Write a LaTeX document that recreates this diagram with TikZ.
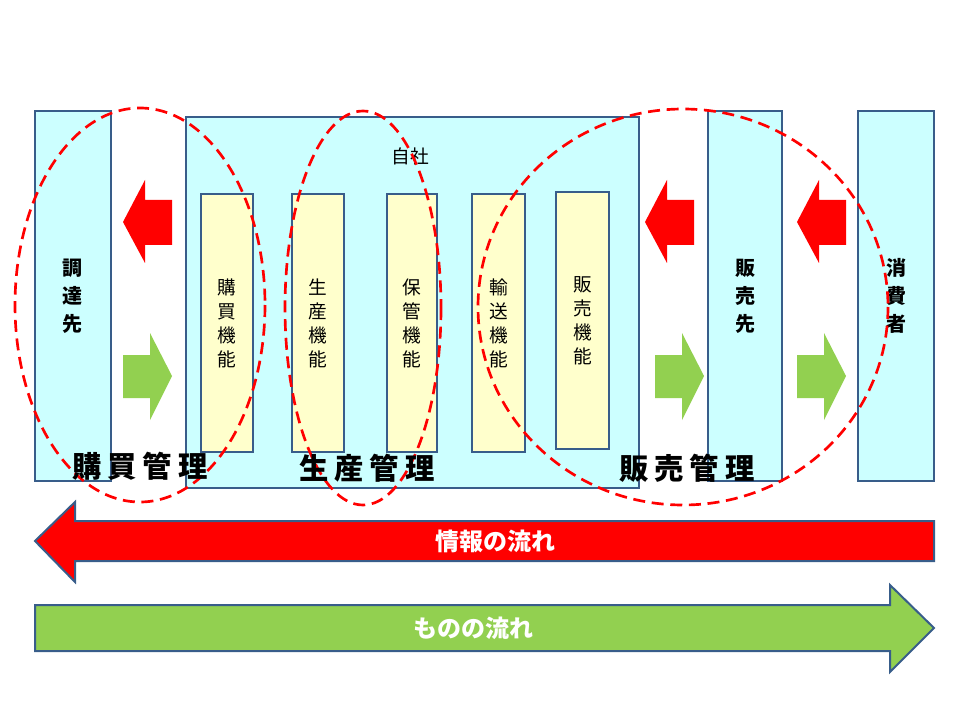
\documentclass[tikz,border=0pt]{standalone}
\usepackage{fontspec}
\setmainfont{Noto Sans CJK JP}
\definecolor{boxfill}{RGB}{204,255,255}
\definecolor{boxline}{RGB}{56,93,138}
\definecolor{funcfill}{RGB}{255,255,204}
\definecolor{arrgreen}{RGB}{146,208,80}
\tikzset{every picture/.style={line width=0.75pt}}
\tikzset{
  party/.style={draw=boxline,line width=1.5pt,fill=boxfill,inner sep=0pt,align=center,font=\bfseries\fontsize{15}{21}\selectfont},
  func/.style={draw=boxline,line width=1.5pt,fill=funcfill,inner sep=0pt,align=center,font=\fontsize{14}{18}\selectfont},
  scopering/.style={draw=red,line width=2pt,dash pattern={on 9pt off 5pt}},
  mgmt/.style={font=\bfseries\fontsize{22}{26}\selectfont\addfontfeature{LetterSpace=20},inner sep=0pt},
  flowtext/.style={text=white,font=\bfseries\fontsize{18}{20}\selectfont}
}
\begin{document}
\begin{tikzpicture}[x=0.75pt,y=0.75pt,yscale=-1,xscale=1]
\useasboundingbox (0,0) rectangle (960,720);

%Shape: parties
\node[party,minimum width=57pt,minimum height=278pt] (supplier) at (72.5,296) {調\\達\\先};
\draw[boxline,line width=1.5pt,fill=boxfill] (186,117) rectangle (639,488);
\node[font=\fontsize{14}{16}\selectfont] (self) at (410,156) {自社};
\node[party,minimum width=56pt,minimum height=278pt] (buyer) at (745,296) {販\\売\\先};
\node[party,minimum width=57pt,minimum height=278pt] (consumer) at (896,296) {消\\費\\者};

%Shape: functions
\node[func,minimum width=39pt,minimum height=193pt] (fpur) at (227,323) {購\\買\\機\\能};
\node[func,minimum width=39pt,minimum height=193pt] (fprod) at (318,323) {生\\産\\機\\能};
\node[func,minimum width=38pt,minimum height=193pt] (fstore) at (412,323) {保\\管\\機\\能};
\node[func,minimum width=40pt,minimum height=193pt] (ftrans) at (498.5,323) {輸\\送\\機\\能};
\node[func,minimum width=40pt,minimum height=193pt] (fsales) at (582.5,320.5) {販\\売\\機\\能};

%Shape: small block arrows
\foreach \x in {123,645,797} {
  \fill[red] (\x,222) -- (\x+22,180) -- (\x+22,200) -- (\x+49,200) -- (\x+49,245) -- (\x+22,245) -- (\x+22,263) -- cycle;
}
\foreach \x in {123,655,797} {
  \fill[arrgreen] (\x,355) -- (\x+27,355) -- (\x+27,333) -- (\x+49,376) -- (\x+27,420) -- (\x+27,398) -- (\x,398) -- cycle;
}

%Shape: dashed scopes
\draw[scopering] (140,305) ellipse (125 and 197);
\draw[scopering] (363,308) ellipse (78 and 197);
\draw[scopering] (683,307) ellipse (205 and 198);

% Text Node
\node[mgmt] (mpur) at (140,466) {購買管理};
\node[mgmt] (mprod) at (367,468) {生産管理};
\node[mgmt] (msales) at (687,468) {販売管理};

%Shape: flow arrows
\draw[boxline,line width=1.5pt,fill=red] (35,541) -- (75,502) -- (75,521) -- (934,521) -- (934,561) -- (75,561) -- (75,582) -- cycle;
\node[flowtext] (info) at (495,541) {情報の流れ};
\draw[boxline,line width=1.5pt,fill=arrgreen] (35,605) -- (890,605) -- (890,585) -- (934,628) -- (890,672) -- (890,651) -- (35,651) -- cycle;
\node[flowtext] (goods) at (473,628) {ものの流れ};
\end{tikzpicture}
\end{document}
